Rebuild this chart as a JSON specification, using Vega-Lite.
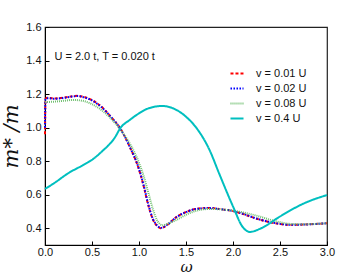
{
  "$schema": "https://vega.github.io/schema/vega-lite/v6.json",
  "width": 282,
  "height": 218,
  "autosize": {"type": "none"},
  "padding": {"left": 45, "top": 27, "right": 36, "bottom": 28},
  "background": "white",
  "config": {
    "view": {"stroke": "#222", "strokeWidth": 1.2},
    "font": "Liberation Sans",
    "axis": {"grid": false, "domainColor": "#000", "tickColor": "#000", "labelColor": "#111", "labelFontSize": 11, "labelFont": "Liberation Sans", "titleFontWeight": "normal", "titleColor": "#111", "labelOverlap": false, "labelFlush": false}
  },
  "datasets": {
    "curves": [
      {"w": 0.0, "m": 0.96, "s": "v = 0.01 U"},
      {"w": 0.005, "m": 1.17, "s": "v = 0.01 U"},
      {"w": 0.02, "m": 1.178, "s": "v = 0.01 U"},
      {"w": 0.1, "m": 1.174, "s": "v = 0.01 U"},
      {"w": 0.2, "m": 1.179, "s": "v = 0.01 U"},
      {"w": 0.3, "m": 1.188, "s": "v = 0.01 U"},
      {"w": 0.35, "m": 1.19, "s": "v = 0.01 U"},
      {"w": 0.4, "m": 1.185, "s": "v = 0.01 U"},
      {"w": 0.5, "m": 1.164, "s": "v = 0.01 U"},
      {"w": 0.6, "m": 1.125, "s": "v = 0.01 U"},
      {"w": 0.7, "m": 1.065, "s": "v = 0.01 U"},
      {"w": 0.8, "m": 0.996, "s": "v = 0.01 U"},
      {"w": 0.9, "m": 0.887, "s": "v = 0.01 U"},
      {"w": 1.0, "m": 0.75, "s": "v = 0.01 U"},
      {"w": 1.05, "m": 0.65, "s": "v = 0.01 U"},
      {"w": 1.1, "m": 0.535, "s": "v = 0.01 U"},
      {"w": 1.15, "m": 0.45, "s": "v = 0.01 U"},
      {"w": 1.2, "m": 0.41, "s": "v = 0.01 U"},
      {"w": 1.23, "m": 0.40, "s": "v = 0.01 U"},
      {"w": 1.3, "m": 0.42, "s": "v = 0.01 U"},
      {"w": 1.4, "m": 0.468, "s": "v = 0.01 U"},
      {"w": 1.5, "m": 0.497, "s": "v = 0.01 U"},
      {"w": 1.6, "m": 0.515, "s": "v = 0.01 U"},
      {"w": 1.75, "m": 0.521, "s": "v = 0.01 U"},
      {"w": 1.9, "m": 0.511, "s": "v = 0.01 U"},
      {"w": 2.0, "m": 0.503, "s": "v = 0.01 U"},
      {"w": 2.1, "m": 0.486, "s": "v = 0.01 U"},
      {"w": 2.25, "m": 0.457, "s": "v = 0.01 U"},
      {"w": 2.4, "m": 0.435, "s": "v = 0.01 U"},
      {"w": 2.5, "m": 0.425, "s": "v = 0.01 U"},
      {"w": 2.6, "m": 0.42, "s": "v = 0.01 U"},
      {"w": 2.75, "m": 0.422, "s": "v = 0.01 U"},
      {"w": 3.0, "m": 0.43, "s": "v = 0.01 U"},

      {"w": 0.0, "m": 1.0, "s": "v = 0.02 U"},
      {"w": 0.005, "m": 1.168, "s": "v = 0.02 U"},
      {"w": 0.02, "m": 1.175, "s": "v = 0.02 U"},
      {"w": 0.1, "m": 1.172, "s": "v = 0.02 U"},
      {"w": 0.2, "m": 1.177, "s": "v = 0.02 U"},
      {"w": 0.3, "m": 1.186, "s": "v = 0.02 U"},
      {"w": 0.35, "m": 1.188, "s": "v = 0.02 U"},
      {"w": 0.4, "m": 1.183, "s": "v = 0.02 U"},
      {"w": 0.5, "m": 1.162, "s": "v = 0.02 U"},
      {"w": 0.6, "m": 1.123, "s": "v = 0.02 U"},
      {"w": 0.7, "m": 1.064, "s": "v = 0.02 U"},
      {"w": 0.8, "m": 0.995, "s": "v = 0.02 U"},
      {"w": 0.9, "m": 0.888, "s": "v = 0.02 U"},
      {"w": 1.0, "m": 0.753, "s": "v = 0.02 U"},
      {"w": 1.05, "m": 0.655, "s": "v = 0.02 U"},
      {"w": 1.1, "m": 0.54, "s": "v = 0.02 U"},
      {"w": 1.15, "m": 0.453, "s": "v = 0.02 U"},
      {"w": 1.2, "m": 0.412, "s": "v = 0.02 U"},
      {"w": 1.23, "m": 0.402, "s": "v = 0.02 U"},
      {"w": 1.3, "m": 0.421, "s": "v = 0.02 U"},
      {"w": 1.4, "m": 0.467, "s": "v = 0.02 U"},
      {"w": 1.5, "m": 0.496, "s": "v = 0.02 U"},
      {"w": 1.6, "m": 0.514, "s": "v = 0.02 U"},
      {"w": 1.75, "m": 0.52, "s": "v = 0.02 U"},
      {"w": 1.9, "m": 0.511, "s": "v = 0.02 U"},
      {"w": 2.0, "m": 0.503, "s": "v = 0.02 U"},
      {"w": 2.1, "m": 0.487, "s": "v = 0.02 U"},
      {"w": 2.25, "m": 0.458, "s": "v = 0.02 U"},
      {"w": 2.4, "m": 0.436, "s": "v = 0.02 U"},
      {"w": 2.5, "m": 0.426, "s": "v = 0.02 U"},
      {"w": 2.6, "m": 0.421, "s": "v = 0.02 U"},
      {"w": 2.75, "m": 0.422, "s": "v = 0.02 U"},
      {"w": 3.0, "m": 0.43, "s": "v = 0.02 U"},

      {"w": 0.0, "m": 1.152, "s": "v = 0.08 U"},
      {"w": 0.1, "m": 1.155, "s": "v = 0.08 U"},
      {"w": 0.2, "m": 1.16, "s": "v = 0.08 U"},
      {"w": 0.3, "m": 1.165, "s": "v = 0.08 U"},
      {"w": 0.4, "m": 1.16, "s": "v = 0.08 U"},
      {"w": 0.5, "m": 1.14, "s": "v = 0.08 U"},
      {"w": 0.6, "m": 1.105, "s": "v = 0.08 U"},
      {"w": 0.7, "m": 1.055, "s": "v = 0.08 U"},
      {"w": 0.8, "m": 0.99, "s": "v = 0.08 U"},
      {"w": 0.9, "m": 0.907, "s": "v = 0.08 U"},
      {"w": 1.0, "m": 0.79, "s": "v = 0.08 U"},
      {"w": 1.05, "m": 0.71, "s": "v = 0.08 U"},
      {"w": 1.1, "m": 0.61, "s": "v = 0.08 U"},
      {"w": 1.15, "m": 0.51, "s": "v = 0.08 U"},
      {"w": 1.2, "m": 0.44, "s": "v = 0.08 U"},
      {"w": 1.25, "m": 0.418, "s": "v = 0.08 U"},
      {"w": 1.3, "m": 0.426, "s": "v = 0.08 U"},
      {"w": 1.4, "m": 0.45, "s": "v = 0.08 U"},
      {"w": 1.5, "m": 0.48, "s": "v = 0.08 U"},
      {"w": 1.6, "m": 0.503, "s": "v = 0.08 U"},
      {"w": 1.75, "m": 0.515, "s": "v = 0.08 U"},
      {"w": 1.9, "m": 0.511, "s": "v = 0.08 U"},
      {"w": 2.0, "m": 0.505, "s": "v = 0.08 U"},
      {"w": 2.1, "m": 0.495, "s": "v = 0.08 U"},
      {"w": 2.25, "m": 0.475, "s": "v = 0.08 U"},
      {"w": 2.4, "m": 0.45, "s": "v = 0.08 U"},
      {"w": 2.5, "m": 0.436, "s": "v = 0.08 U"},
      {"w": 2.6, "m": 0.426, "s": "v = 0.08 U"},
      {"w": 2.75, "m": 0.424, "s": "v = 0.08 U"},
      {"w": 3.0, "m": 0.43, "s": "v = 0.08 U"},

      {"w": 0.0, "m": 0.634, "s": "v = 0.4 U"},
      {"w": 0.1, "m": 0.67, "s": "v = 0.4 U"},
      {"w": 0.25, "m": 0.729, "s": "v = 0.4 U"},
      {"w": 0.4, "m": 0.775, "s": "v = 0.4 U"},
      {"w": 0.5, "m": 0.808, "s": "v = 0.4 U"},
      {"w": 0.6, "m": 0.855, "s": "v = 0.4 U"},
      {"w": 0.75, "m": 0.947, "s": "v = 0.4 U"},
      {"w": 0.8, "m": 0.996, "s": "v = 0.4 U"},
      {"w": 0.9, "m": 1.045, "s": "v = 0.4 U"},
      {"w": 1.0, "m": 1.085, "s": "v = 0.4 U"},
      {"w": 1.1, "m": 1.115, "s": "v = 0.4 U"},
      {"w": 1.25, "m": 1.129, "s": "v = 0.4 U"},
      {"w": 1.4, "m": 1.105, "s": "v = 0.4 U"},
      {"w": 1.5, "m": 1.065, "s": "v = 0.4 U"},
      {"w": 1.6, "m": 1.006, "s": "v = 0.4 U"},
      {"w": 1.75, "m": 0.867, "s": "v = 0.4 U"},
      {"w": 1.85, "m": 0.73, "s": "v = 0.4 U"},
      {"w": 2.0, "m": 0.53, "s": "v = 0.4 U"},
      {"w": 2.1, "m": 0.41, "s": "v = 0.4 U"},
      {"w": 2.18, "m": 0.378, "s": "v = 0.4 U"},
      {"w": 2.3, "m": 0.40, "s": "v = 0.4 U"},
      {"w": 2.5, "m": 0.47, "s": "v = 0.4 U"},
      {"w": 2.75, "m": 0.547, "s": "v = 0.4 U"},
      {"w": 3.0, "m": 0.598, "s": "v = 0.4 U"}
    ],
    "note": [{"w": 0.1, "m": 1.42, "t": "U = 2.0 t, T = 0.020 t"}]
  },
  "encoding": {
    "x": {"field": "w", "type": "quantitative", "scale": {"domain": [0, 3], "nice": false},
      "axis": {"values": [0, 0.5, 1, 1.5, 2, 2.5, 3], "format": ".1f", "tickSize": -4, "labelPadding": 5, "labelOverlap": false, "title": "ω", "titleFont": "DejaVu Serif", "titleFontStyle": "italic", "titleFontSize": 15, "titleBaseline": "alphabetic", "titleY": 26}},
    "y": {"field": "m", "type": "quantitative", "scale": {"domain": [0.3, 1.6], "nice": false, "zero": false},
      "axis": {"values": [0.4, 0.6, 0.8, 1.0, 1.2, 1.4, 1.6], "format": ".1f", "tickSize": -4, "labelPadding": 8, "labelOverlap": false, "labelBound": false, "title": "m* /m", "titleFont": "DejaVu Serif", "titleFontStyle": "italic", "titleFontSize": 21, "titlePadding": 4}}
  },
  "layer": [
    {
      "data": {"name": "curves"},
      "mark": {"type": "line", "interpolate": "monotone", "strokeWidth": 2},
      "encoding": {
        "color": {"field": "s", "type": "nominal", "sort": null,
          "scale": {"domain": ["v = 0.01 U", "v = 0.02 U", "v = 0.08 U", "v = 0.4 U"], "range": ["#ff0000", "#0000ff", "#6fbf6f", "#00bfbf"]},
          "legend": {"orient": "none", "legendX": 184, "legendY": 39, "title": null, "symbolType": "stroke", "symbolSize": 170, "symbolStrokeWidth": 2, "labelFontSize": 11, "labelColor": "#111", "clipHeight": 15, "rowPadding": 0, "labelOffset": 11}},
        "strokeDash": {"field": "s", "type": "nominal", "sort": null,
          "scale": {"domain": ["v = 0.01 U", "v = 0.02 U", "v = 0.08 U", "v = 0.4 U"], "range": [[3, 2], [1.5, 1.5], [1, 1], [1, 0]]}},
        "strokeWidth": {"field": "s", "type": "nominal", "sort": null,
          "scale": {"domain": ["v = 0.01 U", "v = 0.02 U", "v = 0.08 U", "v = 0.4 U"], "range": [2, 2, 1.5, 2]}, "legend": null},
        "order": {"field": "w", "type": "quantitative"}
      }
    },
    {
      "data": {"name": "note"},
      "mark": {"type": "text", "align": "left", "baseline": "middle", "fontSize": 11, "font": "Liberation Sans", "color": "#111"},
      "encoding": {
        "text": {"field": "t"}
      }
    }
  ]
}
